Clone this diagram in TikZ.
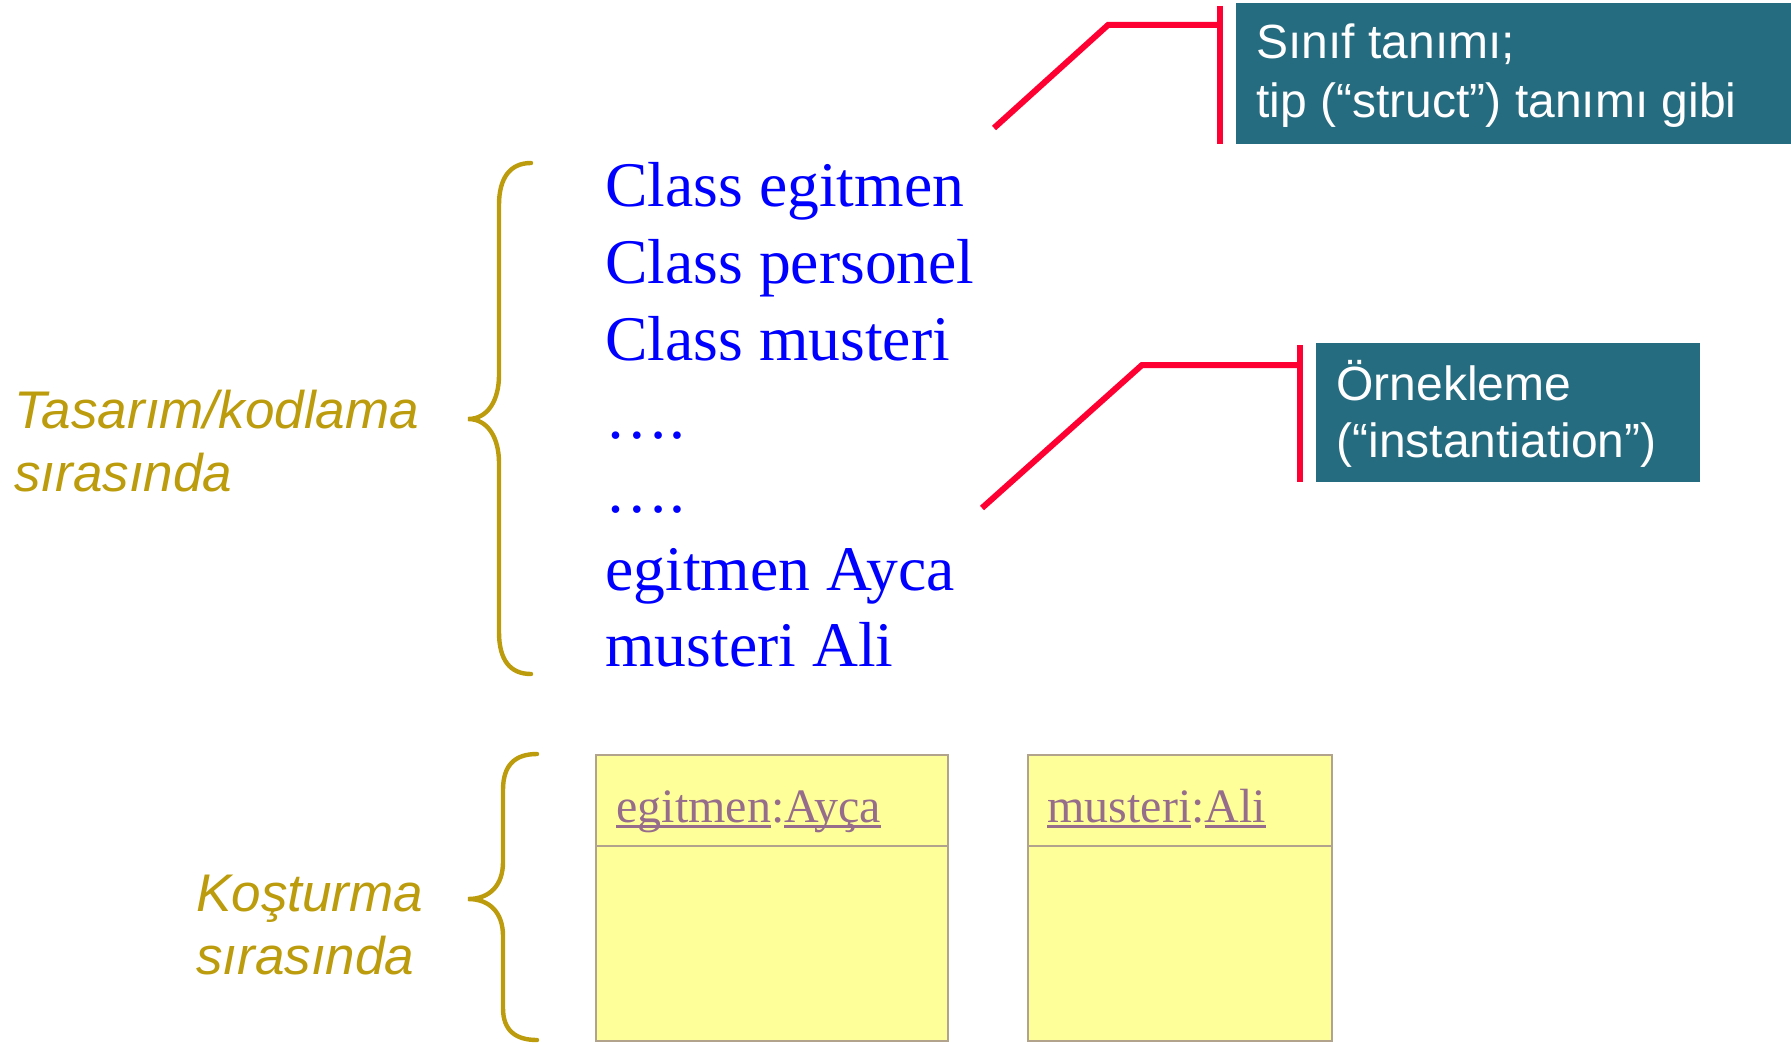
\documentclass[tikz,border=0pt]{standalone}
\usepackage{fontspec}
\setmainfont{Liberation Serif}
\newfontfamily\arialfont{Liberation Sans}
\definecolor{tealbg}{RGB}{38,108,128}
\definecolor{calloutred}{RGB}{255,0,51}
\definecolor{goldtxt}{RGB}{188,156,12}
\definecolor{codeblue}{RGB}{0,0,255}
\definecolor{objfill}{RGB}{255,255,153}
\definecolor{objline}{RGB}{178,164,140}
\definecolor{objtext}{RGB}{150,110,140}
\newcommand\objul[1]{\setbox0\hbox{#1}\rlap{\raisebox{-3pt}{\color{objtext}\rule{\wd0}{1.6pt}}}\box0}
\tikzset{
  tealbox/.style={fill=tealbg, draw=none, inner sep=0pt, anchor=north west},
  tealtext/.style={text=white, inner sep=0pt, anchor=base west, font=\arialfont\fontsize{24}{29}\selectfont},
  redline/.style={draw=calloutred, line width=3pt},
  codeline/.style={text=codeblue, inner sep=0pt, anchor=base west, font=\fontsize{31.8}{38}\selectfont},
  phase/.style={text=goldtxt, inner sep=0pt, anchor=base west, font=\arialfont\itshape\fontsize{26.5}{31}\selectfont},
  bracestyle/.style={draw=goldtxt, line width=2.2pt, line cap=round},
  objbox/.style={fill=objfill, draw=objline, line width=1.4pt},
  objlabel/.style={text=objtext, inner sep=0pt, anchor=base west, font=\fontsize{24}{29}\selectfont}
}
\begin{document}
\begin{tikzpicture}[x=0.5pt,y=-0.5pt]
\useasboundingbox (0,0) rectangle (1791,1043);
\fill[white] (0,0) rectangle (1791,1043);

% top callout
\node[tealbox, minimum width=277.5pt, minimum height=70.5pt] (defbox) at (1236,3) {};
\node[tealtext] (deft1) at (1256,59) {Sınıf tanımı;};
\node[tealtext] (deft2) at (1256,118) {tip (“struct”) tanımı gibi};
\coordinate (c1) at (994,128);
\coordinate (k1) at (1108,25);
\coordinate (j1) at (1220,25);
\coordinate (b1t) at (1220,6);
\coordinate (b1b) at (1220,144);
\draw[redline] (c1) -- (k1) -- (j1);
\draw[redline] (b1t) -- (b1b);

% second callout
\node[tealbox, minimum width=192pt, minimum height=69.5pt] (instbox) at (1316,343) {};
\node[tealtext] (inst1) at (1336,400) {Örnekleme};
\node[tealtext] (inst2) at (1336,457) {(“instantiation”)};
\coordinate (c2) at (982,508);
\coordinate (k2) at (1142,365);
\coordinate (j2) at (1300,365);
\coordinate (b2t) at (1300,345);
\coordinate (b2b) at (1300,482);
\draw[redline] (c2) -- (k2) -- (j2);
\draw[redline] (b2t) -- (b2b);

% code lines
\node[codeline] (l1) at (605,206) {Class egitmen};
\node[codeline] (l2) at (605,283) {Class personel};
\node[codeline] (l3) at (605,360) {Class musteri};
\node[codeline] (l4) at (605,438) {….};
\node[codeline] (l5) at (605,512) {….};
\node[codeline] (l6) at (605,590) {egitmen Ayca};
\node[codeline] (l7) at (605,666) {musteri Ali};

% braces
\draw[bracestyle] (531,163) .. controls (510,163) and (499,178) .. (499,205) -- (499,375)
  .. controls (499,400) and (488,419) .. (468,419)
  .. controls (488,419) and (499,438) .. (499,463) -- (499,632)
  .. controls (499,660) and (510,674) .. (531,674);
\draw[bracestyle] (537,754) .. controls (515,754) and (503,765) .. (503,790) -- (503,862)
  .. controls (503,885) and (490,899) .. (468,899)
  .. controls (490,899) and (503,913) .. (503,936) -- (503,1008)
  .. controls (503,1030) and (515,1040) .. (537,1040);

% phase labels
\node[phase] (p1a) at (14,428) {Tasarım/kodlama};
\node[phase] (p1b) at (14,491) {sırasında};
\node[phase] (p2a) at (196,911) {Koşturma};
\node[phase] (p2b) at (196,974) {sırasında};

% object boxes
\draw[objbox] (596,755) rectangle (948,1041);
\draw[objline, line width=1.4pt] (596,846) -- (948,846);
\draw[objbox] (1028,755) rectangle (1332,1041);
\draw[objline, line width=1.4pt] (1028,846) -- (1332,846);
\node[objlabel] (o1) at (616,822) {\objul{egitmen}:\objul{Ayça}};
\node[objlabel] (o2) at (1047,822) {\objul{musteri}:\objul{Ali}};
\end{tikzpicture}
\end{document}
